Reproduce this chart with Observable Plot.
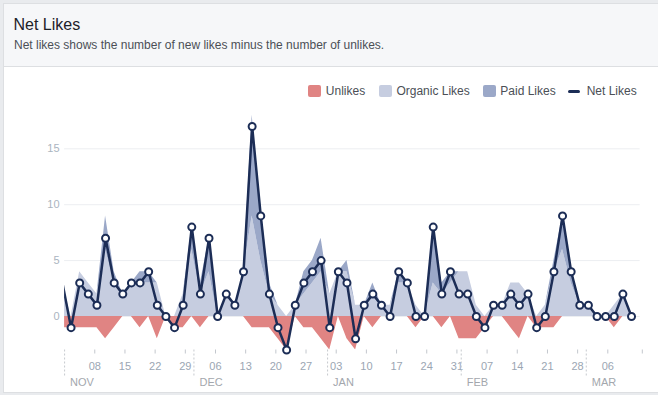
<!DOCTYPE html>
<html>
<head>
<meta charset="utf-8">
<script src="https://cdn.jsdelivr.net/npm/d3@7"></script>
<script src="https://cdn.jsdelivr.net/npm/@observablehq/plot@0.6"></script>
<style>
  html, body { margin: 0; padding: 0; width: 658px; height: 395px; overflow: hidden; background: #e9ebee;
    font-family: "Liberation Sans", Arial, Helvetica, sans-serif; }
  #card { position: absolute; left: 3px; top: 3px; width: 700px; height: 388px; background: #fff; border: 1px solid #dddfe2; }
  #head { position: absolute; left: 4px; top: 4px; width: 700px; height: 62px; background: #f6f7f9; border-bottom: 1px solid #dddfe2; }
  .abs { position: absolute; white-space: nowrap; line-height: 1; }
  #title { left: 13.5px; top: 16.5px; font-size: 16px; color: #1d2129; }
  #sub { left: 14px; top: 39px; font-size: 12px; color: #4b4f56; }
  .sw { position: absolute; width: 13px; height: 12px; top: 85px; border-radius: 2px; }
  .lt { position: absolute; top: 84.8px; font-size: 12px; color: #4b4f56; line-height: 1; white-space: nowrap; }
  #chart { position: absolute; left: 0; top: 100px; }
</style>
</head>
<body>
<div id="card"></div>
<div id="head"></div>
<div id="title" class="abs">Net Likes</div>
<div id="sub" class="abs">Net likes shows the number of new likes minus the number of unlikes.</div>
<div id="legend"></div>
<div id="chart"></div>
<script>
// ---- data (every second day) ----
const dates = [
  "2015-10-31",
  "2015-11-02","2015-11-04","2015-11-06","2015-11-08","2015-11-10","2015-11-12","2015-11-14","2015-11-16",
  "2015-11-18","2015-11-20","2015-11-22","2015-11-24","2015-11-26","2015-11-28","2015-11-30",
  "2015-12-02","2015-12-04","2015-12-06","2015-12-08","2015-12-10","2015-12-12","2015-12-14","2015-12-16",
  "2015-12-18","2015-12-20","2015-12-22","2015-12-24","2015-12-26","2015-12-28","2015-12-30",
  "2016-01-01","2016-01-03","2016-01-05","2016-01-07","2016-01-09","2016-01-11","2016-01-13","2016-01-15",
  "2016-01-17","2016-01-19","2016-01-21","2016-01-23","2016-01-25","2016-01-27","2016-01-29","2016-01-31",
  "2016-02-02","2016-02-04","2016-02-06","2016-02-08","2016-02-10","2016-02-12","2016-02-14","2016-02-16",
  "2016-02-18","2016-02-20","2016-02-22","2016-02-24","2016-02-26","2016-02-28",
  "2016-03-01","2016-03-03","2016-03-05","2016-03-07","2016-03-09","2016-03-11"
];
const netLikes = [
  3,
  -1, 3, 2, 1, 7, 3, 2, 3, 3, 4, 1, 0, -1, 1, 8,
  2, 7, 0, 2, 1, 4, 17, 9, 2, -1, -3, 1, 3, 4, 5,
  -1, 4, 3, -2, 1, 2, 1, 0, 4, 3, 0, 0, 8, 2, 4, 2,
  2, 0, -1, 1, 1, 2, 1, 2, -1, 0, 4, 9, 4, 1,
  1, 0, 0, 0, 2, 0
];
const organicLikes = [
  3,
  0, 4, 3, 2, 6, 3, 2, 3, 3, 3, 3, 0, 0, 2, 6,
  2, 4, 0, 2, 1, 4, 9, 5, 2, 1, 0, 1, 2, 3, 4,
  2, 4, 4, 1, 1, 2, 1, 1, 3, 3, 1, 0, 3, 2, 3, 4,
  4, 1, 0, 1, 1, 3, 3, 2, 0, 1, 4, 6, 3, 1,
  1, 0, 0, 1, 2, 0
];
const paidLikes = [
  0,
  0, 0, 0, 0, 3, 1, 0, 0, 1, 1, 0, 0, 0, 0, 2,
  1, 3, 0, 0, 0, 0, 9, 5, 1, 0, 0, 0, 2, 2, 3,
  0, 0, 1, 0, 0, 1, 0, 0, 1, 0, 0, 0, 5, 1, 1, 0,
  0, 0, 0, 0, 0, 0, 0, 0, 0, 0, 1, 3, 1, 0,
  0, 0, 0, 0, 0, 0
];
const unlikes = [
  -1,
  -1, -1, -1, -1, -2, -1, 0, 0, -1, 0, -2, 0, -1, -1, 0,
  -1, 0, 0, 0, 0, 0, -1, -1, -1, -2, -3, 0, -1, -1, -2,
  -3, 0, -2, -3, 0, -1, 0, 0, 0, 0, -1, 0, 0, -1, 0, -2,
  -2, -2, -1, 0, 0, -1, -2, 0, -1, -1, -1, 0, 0, 0,
  0, 0, 0, -1, 0, 0
];
const yTicks = [0, 5, 10, 15];
const weekTicks = [
  "2015-11-08","2015-11-15","2015-11-22","2015-11-29","2015-12-06","2015-12-13","2015-12-20","2015-12-27",
  "2016-01-03","2016-01-10","2016-01-17","2016-01-24","2016-01-31","2016-02-07","2016-02-14","2016-02-21",
  "2016-02-28","2016-03-06"
];
const monthStarts = ["2015-11-01","2015-12-01","2016-01-01","2016-02-01","2016-03-01"];
const monthLabels = ["NOV","DEC","JAN","FEB","MAR"];
const domainDates = ["2015-11-01","2016-03-14"];
const legendLabels = ["Unlikes","Organic Likes","Paid Likes","Net Likes"];

// ---- colours ----
const RED = "#e08483", ORG = "#c6cde0", PAID = "#9ba8c8", NAVY = "#1c2d56";

// ---- legend (HTML) ----
const legend = document.getElementById("legend");
const legendItems = [
  {kind: "sw", color: RED, sx: 307.5, tx: 325.8},
  {kind: "sw", color: ORG, sx: 378.5, tx: 396.4},
  {kind: "sw", color: PAID, sx: 483, tx: 500.3},
  {kind: "line", color: NAVY, sx: 568.3, tx: 586.7}
];
legendItems.forEach((it, i) => {
  const s = document.createElement("div");
  s.className = "sw";
  s.style.left = it.sx + "px";
  s.style.background = it.color;
  if (it.kind === "line") { s.style.width = "12px"; s.style.height = "3px"; s.style.top = "89.5px"; s.style.borderRadius = "1.5px"; }
  legend.appendChild(s);
  const t = document.createElement("div");
  t.className = "lt";
  t.style.left = it.tx + "px";
  t.textContent = legendLabels[i];
  legend.appendChild(t);
});

// ---- table ----
const HALF_DAY = 12 * 3600 * 1000;
const table = dates.map((d, i) => ({
  date: new Date(Date.parse(d) + HALF_DAY),
  net: netLikes[i],
  organic: organicLikes[i],
  total: organicLikes[i] + paidLikes[i],
  unlikes: unlikes[i]
}));
const x0 = new Date(domainDates[0]), x1 = new Date(domainDates[1]);
const tickDates = weekTicks.map(d => new Date(d)).concat([x1]);
const fmt = d3.utcFormat("%d");
const months = monthStarts.map((d, i) => ({date: new Date(d), label: monthLabels[i]}));

const chart = Plot.plot({
  width: 658,
  height: 295,
  marginLeft: 64.1,
  marginRight: 16.2,
  marginTop: 14.8,
  marginBottom: 45.5,
  style: {fontFamily: "'Liberation Sans', Arial, Helvetica, sans-serif", fontSize: "11px", background: "transparent", overflow: "visible"},
  x: {type: "utc", domain: [x0, x1]},
  y: {domain: [-3, 18]},
  marks: [
    Plot.ruleY(yTicks, {stroke: "#eceef1", x1: x0, x2: new Date("2016-03-13T12:00Z")}),
    Plot.areaY(table, {x: "date", y1: 0, y2: "organic", fill: ORG, clip: true}),
    Plot.areaY(table, {x: "date", y1: "organic", y2: "total", fill: PAID, clip: true}),
    Plot.areaY(table, {x: "date", y1: 0, y2: "unlikes", fill: RED, clip: true}),
    Plot.line(table, {x: "date", y: "net", stroke: NAVY, strokeWidth: 2.5, strokeLinejoin: "round", clip: true}),
    Plot.dot(table.filter(d => d.date >= x0), {x: "date", y: "net", r: 3.5, fill: "white", stroke: NAVY, strokeWidth: 2}),
    Plot.axisY({ticks: yTicks, tickSize: 0, tickPadding: 5, fill: "#aab4c0", label: null}),
    Plot.axisX({ticks: tickDates, tickFormat: d => (+d === +x1 ? "" : fmt(d)), tickSize: 4, tickPadding: 8,
      stroke: "#c3c7cd", fill: "#9ba6b3", label: null}),
    Plot.ruleX(months, {x: "date", y1: -3, y2: -5.45, stroke: "#c6c9ce", strokeDasharray: "2,2"}),
    Plot.text(months, {x: "date", y: -5.92, text: "label", textAnchor: "start", dx: 5.5, fill: "#a3a7ad", fontSize: 11})
  ]
});
document.getElementById("chart").appendChild(chart);
</script>
</body>
</html>
